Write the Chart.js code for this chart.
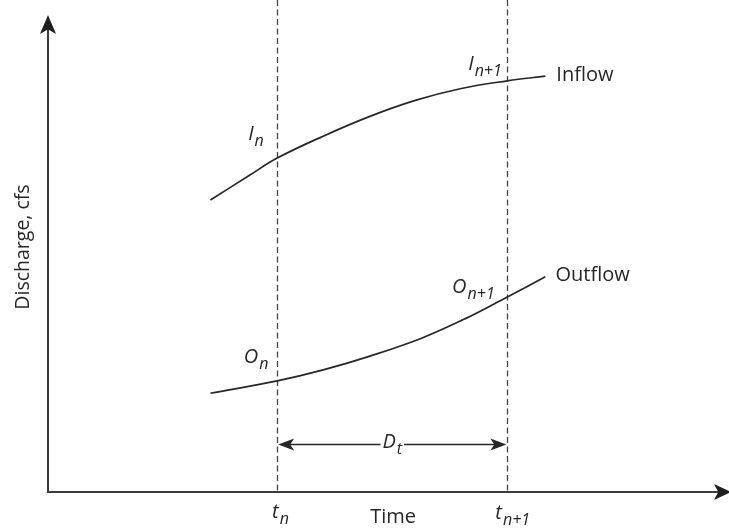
<!DOCTYPE html>
<html>
<head>
<meta charset="utf-8">
<script src="https://cdn.jsdelivr.net/npm/chart.js@4"></script>
<style>
  body { margin: 0; background: #fff; }
  #wrap { width: 729px; height: 529px; position: relative; }
</style>
</head>
<body>
<div id="wrap"><canvas id="routing"></canvas></div>
<script>
// time in units of the routing step (t_n = 1, t_n+1 = 2)
const inflowTimes = [0.71, 0.88, 1.0, 1.2, 1.4, 1.6, 1.8, 2.0, 2.165];
const inflow = [61.2, 66.4, 70.0, 74.6, 78.7, 82.1, 84.6, 86.2, 87.2];
const outflowTimes = [0.71, 1.0, 1.2, 1.41, 1.63, 1.82, 2.0, 2.165];
const outflow = [20.7, 23.3, 25.6, 28.6, 32.3, 36.4, 40.9, 45.1];
const stepTimes = [1, 2];
const stepLabels = [["t", "n"], ["t", "n+1"]];
const axisTitles = ["Time", "Discharge, cfs"];

const ink = "#262626";
const font = "'Open Sans', sans-serif";

function toPoints(xs, ys) {
  return xs.map((x, i) => ({ x: x, y: ys[i] }));
}

// italic symbol with smaller subscript, x/y = left / baseline
function drawSub(ctx, main, sub, x, y, size) {
  ctx.textAlign = "left";
  ctx.textBaseline = "alphabetic";
  ctx.font = "italic " + size + "px " + font;
  ctx.fillText(main, x, y);
  let w = ctx.measureText(main).width;
  ctx.font = "italic " + Math.round(size * 0.8) + "px " + font;
  ctx.fillText(sub, x + w + 1, y + size * 0.3);
}

function arrowHead(ctx, tx, ty, dx, dy, len, half) {
  // dx,dy = unit direction the arrow points to
  let bx = tx - dx * len, by = ty - dy * len;
  let nx = -dy, ny = dx;
  ctx.beginPath();
  ctx.moveTo(tx, ty);
  ctx.lineTo(bx + nx * half, by + ny * half);
  ctx.lineTo(tx - dx * len * 0.75, ty - dy * len * 0.75);
  ctx.lineTo(bx - nx * half, by - ny * half);
  ctx.closePath();
  ctx.fill();
}

const sketch = {
  id: "sketch",
  beforeDatasetsDraw(chart) {
    const ctx = chart.ctx;
    const xs = chart.scales.x;
    const area = chart.chartArea;
    ctx.save();
    // dashed step lines
    ctx.strokeStyle = "#444";
    ctx.lineWidth = 1.3;
    ctx.setLineDash([6, 3.5]);
    stepTimes.forEach(t => {
      let px = Math.round(xs.getPixelForValue(t)) + 0.5;
      ctx.beginPath();
      ctx.moveTo(px, 0);
      ctx.lineTo(px, area.bottom);
      ctx.stroke();
    });
    ctx.setLineDash([]);

    // axes with arrows
    ctx.strokeStyle = "#3a3a3a";
    ctx.fillStyle = "#1e1e1e";
    ctx.lineWidth = 2;
    ctx.beginPath();
    ctx.moveTo(area.left + 1, area.top + 12);
    ctx.lineTo(area.left + 1, area.bottom);
    ctx.lineTo(chart.width - 8, area.bottom);
    ctx.stroke();
    arrowHead(ctx, area.left + 1, area.top, 0, -1, 19, 8);
    arrowHead(ctx, chart.width + 2, area.bottom, 1, 0, 17, 8);
    ctx.restore();
  },
  afterDatasetsDraw(chart) {
    const ctx = chart.ctx;
    const xs = chart.scales.x, ys = chart.scales.y;
    const area = chart.chartArea;
    const X = v => xs.getPixelForValue(v);
    const Y = v => ys.getPixelForValue(v);
    ctx.save();
    ctx.fillStyle = ink;
    ctx.strokeStyle = ink;

    // curve names
    ctx.font = "20px " + font;
    ctx.textAlign = "left";
    ctx.textBaseline = "alphabetic";
    ctx.fillText("Inflow", X(2.213), Y(86.2));
    ctx.fillText("Outflow", X(2.209), Y(44.2));

    // point symbols
    drawSub(ctx, "I", "n", X(0.874), Y(73.8), 20);
    drawSub(ctx, "I", "n+1", X(1.83), Y(88.5), 20);
    drawSub(ctx, "O", "n", X(0.855), Y(27.0), 20);
    drawSub(ctx, "O", "n+1", X(1.76), Y(41.7), 20);

    // time step dimension
    let x1 = X(stepTimes[0]), x2 = X(stepTimes[1]);
    let ya = Math.round(Y(10.06)) + 0.5;
    ctx.font = "italic 20px " + font;
    let dw = ctx.measureText("D").width;
    ctx.font = "italic 16px " + font;
    let tw = ctx.measureText("t").width;
    let lw = dw + tw + 1;
    let cx = (x1 + x2) / 2;
    ctx.lineWidth = 1.6;
    ctx.beginPath();
    ctx.moveTo(x1 + 10, ya);
    ctx.lineTo(cx - lw / 2 - 2, ya);
    ctx.moveTo(cx + lw / 2 + 2, ya);
    ctx.lineTo(x2 - 10, ya);
    ctx.stroke();
    arrowHead(ctx, x1 + 1, ya, -1, 0, 16, 6);
    arrowHead(ctx, x2 - 1, ya, 1, 0, 16, 6);
    drawSub(ctx, "D", "t", cx - lw / 2, Y(9.2), 20);

    // x axis labels
    let base = area.bottom + 26;
    drawSub(ctx, stepLabels[0][0], stepLabels[0][1], X(0.978), base, 20);
    drawSub(ctx, stepLabels[1][0], stepLabels[1][1], X(1.948), base + 1, 20);
    ctx.font = "20px " + font;
    ctx.textAlign = "left";
    ctx.fillText(axisTitles[0], X(1.404), base + 5);

    // y axis title
    ctx.save();
    ctx.translate(29, 247);
    ctx.rotate(-Math.PI / 2);
    ctx.textAlign = "center";
    ctx.textBaseline = "alphabetic";
    ctx.font = "19.5px " + font;
    ctx.fillText(axisTitles[1], 0, 0);
    ctx.restore();
    ctx.restore();
  }
};

new Chart(document.getElementById("routing"), {
  type: "line",
  data: {
    datasets: [
      { label: "Inflow", data: toPoints(inflowTimes, inflow) },
      { label: "Outflow", data: toPoints(outflowTimes, outflow) }
    ]
  },
  options: {
    responsive: true,
    maintainAspectRatio: false,
    animation: false,
    layout: { padding: { left: 47, right: 3, top: 15, bottom: 37 } },
    elements: {
      line: { borderColor: ink, borderWidth: 1.7, tension: 0.4, fill: false },
      point: { radius: 0, hoverRadius: 0 }
    },
    plugins: { legend: { display: false }, tooltip: { enabled: false } },
    scales: {
      x: { type: "linear", min: 0, max: 2.95, display: false },
      y: { type: "linear", min: 0, max: 100, display: false }
    }
  },
  plugins: [sketch]
});
</script>
</body>
</html>
